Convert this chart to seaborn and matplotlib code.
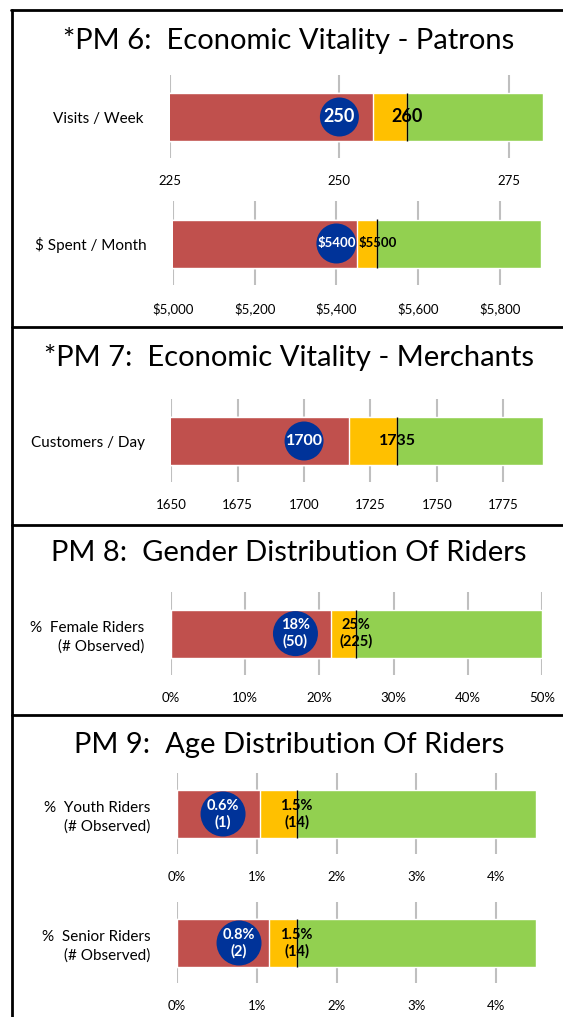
import matplotlib
matplotlib.use("Agg")
import matplotlib.pyplot as plt
from matplotlib.lines import Line2D
import seaborn as sns

# ---------------- data ----------------
titles = ["*PM 6:  Economic Vitality - Patrons",
          "*PM 7:  Economic Vitality - Merchants",
          "PM 8:  Gender Distribution Of Riders",
          "PM 9:  Age Distribution Of Riders"]
categories = ["Visits / Week", "$ Spent / Month", "Customers / Day",
              "%  Female Riders\n(# Observed)",
              "%  Youth Riders\n(# Observed)",
              "%  Senior Riders\n(# Observed)"]
scale_min = [225, 5000, 1650, 0, 0, 0]
red_end = [255, 5450, 1717, 21.6, 1.04, 1.15]
target = [260, 5500, 1735, 25, 1.5, 1.5]
scale_max = [280, 5900, 1790, 50, 4.5, 4.5]
observed = [250, 5400, 1700, 16.8, 0.58, 0.78]
observed_labels = ["250", "$5400", "1700", "18%\n(50)", "0.6%\n(1)", "0.8%\n(2)"]
target_labels = ["260", "$5500", "1735", "25%\n(225)", "1.5%\n(14)", "1.5%\n(14)"]
tick_values = [[225, 250, 275],
               [5000, 5200, 5400, 5600, 5800],
               [1650, 1675, 1700, 1725, 1750, 1775],
               [0, 10, 20, 30, 40, 50],
               [0, 1, 2, 3, 4],
               [0, 1, 2, 3, 4]]
tick_labels = [["225", "250", "275"],
               ["$5,000", "$5,200", "$5,400", "$5,600", "$5,800"],
               ["1650", "1675", "1700", "1725", "1750", "1775"],
               ["0%", "10%", "20%", "30%", "40%", "50%"],
               ["0%", "1%", "2%", "3%", "4%"],
               ["0%", "1%", "2%", "3%", "4%"]]

# ---------------- style ----------------
RED, YEL, GRN, NAVY = "#C0504D", "#FFC000", "#92D050", "#003399"
FONT = ["Lato", "DejaVu Sans"]
W, H = 563, 1017

sns.set_theme(style="white")
plt.rcParams["font.family"] = FONT

fig = plt.figure(figsize=(W / 100, H / 100), dpi=100)

# axes placement in pixels: left, right, top, bottom, bar centre
layout = [(170, 542.7, 75, 158, 117),
          (173, 540.7, 201, 285, 243.5),
          (171.3, 543, 399, 482, 441),
          (170.6, 542.2, 592, 675, 633.6),
          (176.7, 536.3, 773, 854, 814),
          (176.7, 536.3, 902, 983, 943)]
obs_size = [13, 9.5, 11.5, 10.5, 10.5, 10.5]
circ_px = [39, 40, 39, 45, 45, 45]
title_y = [41, 358, 553, 745]

for i, cat in enumerate(categories):
    l, r, t, b, c = layout[i]
    ax = fig.add_axes([l / W, 1 - b / H, (r - l) / W, (b - t) / H])
    for val, col in [(scale_max[i], GRN), (target[i], YEL), (red_end[i], RED)]:
        sns.barplot(x=[val], y=[cat], color=col, saturation=1, width=0.8,
                    ax=ax, zorder=2)
    ax.vlines(target[i], -0.4, 0.4, color="black", lw=1.0, zorder=3)
    d = circ_px[i] * 0.72
    sns.scatterplot(x=[observed[i]], y=[cat], s=d * d, color=NAVY,
                    edgecolor="none", ax=ax, zorder=4, legend=False)
    ax.text(observed[i], 0, observed_labels[i], color="white", fontweight="bold",
            fontsize=obs_size[i], ha="center", va="center", zorder=5,
            linespacing=1.2)
    ax.text(target[i], 0, target_labels[i], color="black", fontweight="bold",
            fontsize=obs_size[i], ha="center", va="center", zorder=5,
            linespacing=1.2)
    ax.set_xlim(scale_min[i], scale_max[i])
    ax.set_ylim((b - c) / 60, -(c - t) / 60)
    ax.set_xticks(tick_values[i])
    ax.set_xticklabels(tick_labels[i])
    ax.grid(axis="x", color="#BFBFBF", lw=1.5)
    ax.grid(axis="y", visible=False)
    ax.set_axisbelow(True)
    for s in ax.spines.values():
        s.set_visible(False)
    ax.set_xlabel("")
    ax.set_ylabel("")
    ax.tick_params(axis="x", length=0, pad=12.5, labelsize=9.5, labelcolor="black")
    ax.tick_params(axis="y", length=0, pad=19, labelsize=11, labelcolor="black")
    for tl in ax.get_yticklabels():
        tl.set_linespacing(1.4)

for k, ttl in enumerate(titles):
    fig.text(289 / W, 1 - title_y[k] / H, ttl, ha="center", va="center",
             fontsize=21, color="black")

# panel borders
lw = 2.0
fig.add_artist(Line2D([11 / W, 1], [1 - 10 / H] * 2, color="black", lw=lw))
fig.add_artist(Line2D([12 / W] * 2, [1 - 10 / H, 0], color="black", lw=lw))
for yy in [327, 525, 715]:
    fig.add_artist(Line2D([12 / W, 1], [1 - yy / H] * 2, color="black", lw=lw))

fig.savefig("out.png", dpi=100)
